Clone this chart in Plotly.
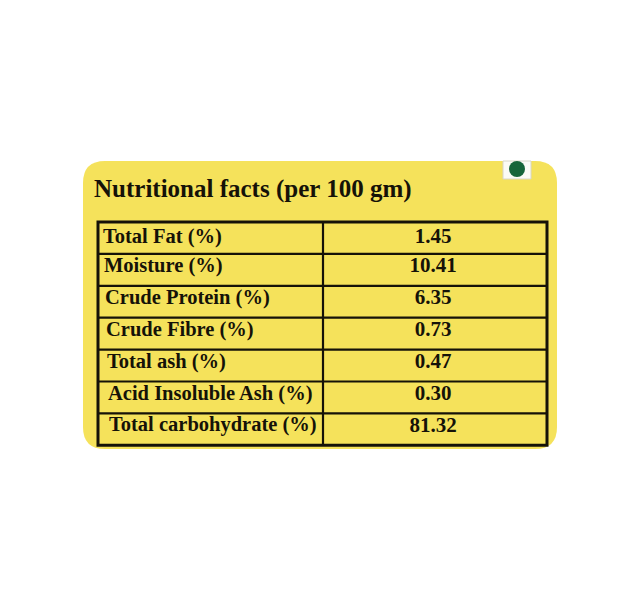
import plotly.graph_objects as go

# label data
title = "Nutritional facts (per 100 gm)"
nutrients = ["Total Fat (%)", "Moisture (%)", "Crude Protein (%)", "Crude Fibre (%)",
             "Total ash (%)", "Acid Insoluble Ash (%)", "Total carbohydrate (%)"]
values = ["1.45", "10.41", "6.35", "0.73", "0.47", "0.30", "81.32"]

W, H = 640, 592
OFF = 8  # page body margin, so axis units == screen pixels
yellow = "#f5e25b"
ink = "#151208"
serif = "Liberation Serif, Times New Roman, serif"

# card + table geometry (pixel space, y down)
cx0, cy0, cx1, cy1, r = 83, 161, 557, 449, 22
tx0, tx1, tdiv = 98, 547, 323
ty0, row_h = 222, 31.9
n = len(nutrients)
ty1 = ty0 + n * row_h

fig = go.Figure()

card = (f"M {cx0+r},{cy0} L {cx1-r},{cy0} Q {cx1},{cy0} {cx1},{cy0+r} "
        f"L {cx1},{cy1-r} Q {cx1},{cy1} {cx1-r},{cy1} L {cx0+r},{cy1} "
        f"Q {cx0},{cy1} {cx0},{cy1-r} L {cx0},{cy0+r} Q {cx0},{cy0} {cx0+r},{cy0} Z")
shapes = [dict(type="path", path=card, fillcolor=yellow, line=dict(width=0), layer="below")]

# veg mark in the corner
shapes.append(dict(type="rect", x0=503, y0=cy0, x1=531, y1=179, fillcolor="#fbfbf6",
                   line=dict(color="#d8d6c8", width=1)))
shapes.append(dict(type="circle", x0=509, y0=161, x1=525, y1=177, fillcolor="#17653a",
                   line=dict(width=0)))

# table grid
shapes.append(dict(type="rect", x0=tx0, y0=ty0, x1=tx1, y1=ty1,
                   line=dict(color=ink, width=3)))
for i in range(1, n):
    y = ty0 + i * row_h
    shapes.append(dict(type="line", x0=tx0, x1=tx1, y0=y, y1=y, line=dict(color=ink, width=2.2)))
shapes.append(dict(type="line", x0=tdiv, x1=tdiv, y0=ty0, y1=ty1, line=dict(color=ink, width=2.2)))

# text sits a little high in each cell, and drifts right down the table (photo skew)
row_mid = [ty0 + (i + 0.5) * row_h - (0 if i == 0 else 3) for i in range(n)]
label_x = [103 + i for i in range(n)]

fig.add_trace(go.Scatter(x=label_x, y=row_mid, mode="text", text=nutrients,
                         textposition="middle right",
                         textfont=dict(family=serif, size=20.5, color=ink, weight="bold"),
                         hoverinfo="skip"))
fig.add_trace(go.Scatter(x=[433] * n, y=row_mid, mode="text", text=values,
                         textposition="middle center",
                         textfont=dict(family=serif, size=21, color=ink, weight="bold"),
                         hoverinfo="skip"))
fig.add_trace(go.Scatter(x=[94], y=[191], mode="text", text=[title],
                         textposition="middle right",
                         textfont=dict(family=serif, size=25, color=ink, weight="bold"),
                         hoverinfo="skip"))

fig.update_layout(
    width=W, height=H,
    margin=dict(l=0, r=0, t=0, b=0),
    paper_bgcolor="white", plot_bgcolor="white",
    showlegend=False,
    shapes=shapes,
    xaxis=dict(range=[OFF, W + OFF], visible=False, fixedrange=True),
    yaxis=dict(range=[H + OFF, OFF], visible=False, fixedrange=True),
)

fig.write_html("out.html")
